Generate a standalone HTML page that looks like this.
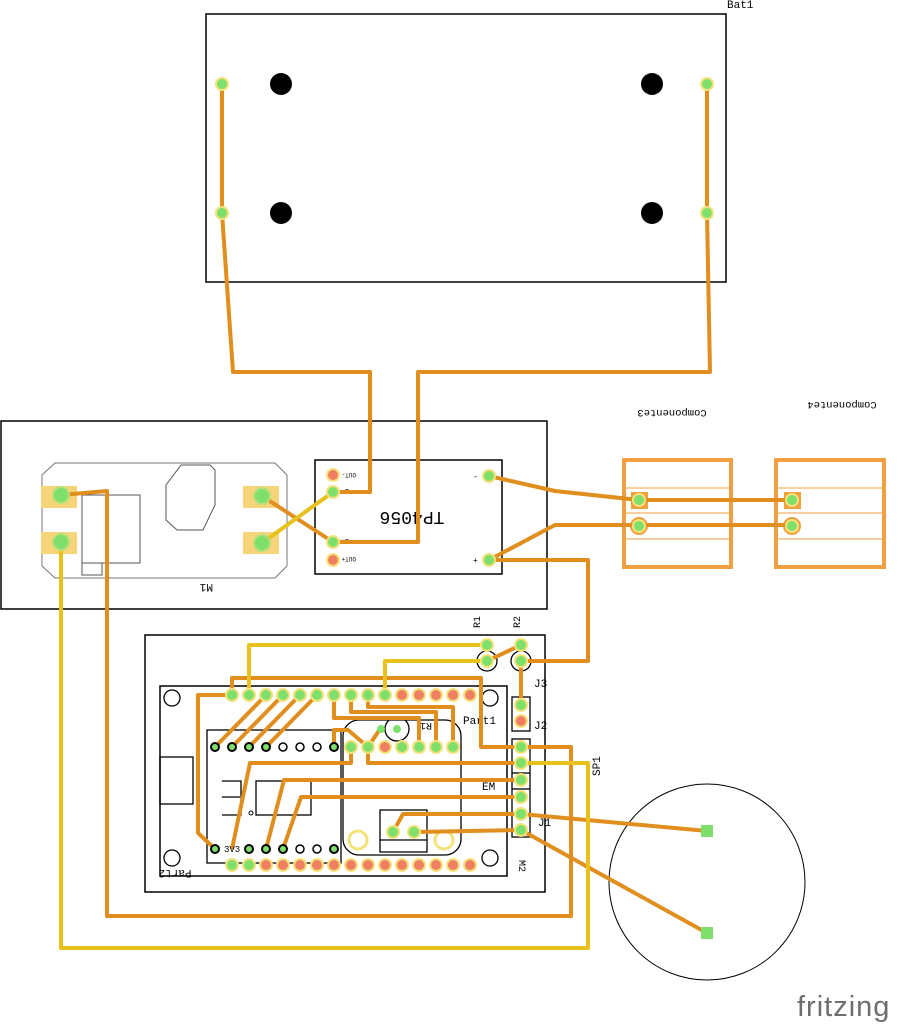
<!DOCTYPE html>
<html><head><meta charset="utf-8"><style>
html,body{margin:0;padding:0;background:#fff;width:907px;height:1024px;overflow:hidden}
svg{display:block}
text{font-family:"Liberation Mono",monospace}
</style></head><body>
<svg width="907" height="1024" viewBox="0 0 907 1024" xmlns="http://www.w3.org/2000/svg">
<defs>
<g id="pg"><circle r="7" fill="#f3e27a"/><circle r="5" fill="#7ee06a"/></g>
<g id="pr"><circle r="7" fill="#f3e27a"/><circle r="5" fill="#f07f62"/></g>
</defs>
<rect x="206" y="14" width="520" height="268" fill="none" stroke="#000" stroke-width="1.5"/>
<text x="727" y="8" font-size="11">Bat1</text>
<circle cx="281" cy="84" r="11"/><circle cx="281" cy="213" r="11"/>
<circle cx="652" cy="84" r="11"/><circle cx="652" cy="213" r="11"/>
<rect x="1" y="421" width="546" height="188" fill="none" stroke="#000" stroke-width="1.5"/>
<path d="M55 463 H275 L287 475 V566 L275 578 H55 L42 566 V475 Z" fill="none" stroke="#777" stroke-width="1"/>
<path d="M181 465 H210 L215 470 V505 L203 530 H177 L166 520 V485 Z" fill="none" stroke="#555"/>
<rect x="82" y="495" width="58" height="68" fill="none" stroke="#555"/>
<rect x="82" y="563" width="20" height="12" fill="none" stroke="#555"/>
<rect x="41" y="486" width="36" height="22" fill="#f5d47a"/><rect x="41" y="532" width="36" height="22" fill="#f5d47a"/>
<rect x="243" y="486" width="36" height="22" fill="#f5d47a"/><rect x="243" y="532" width="36" height="22" fill="#f5d47a"/>
<text x="197" y="592" font-size="11" transform="rotate(180 205 588)">M1</text>
<rect x="315" y="460" width="187" height="114" fill="none" stroke="#000" stroke-width="1.5"/>
<text x="412" y="524" font-size="18" text-anchor="middle" transform="rotate(180 412 518)">TP4056</text>
<text x="356" y="479" font-size="6" transform="rotate(180 356 476)">OUT-</text>
<text x="356" y="563" font-size="6" transform="rotate(180 356 560)">OUT+</text>
<text x="349" y="495" font-size="7" transform="rotate(180 349 492)">B-</text>
<text x="349" y="545" font-size="7" transform="rotate(180 349 542)">B+</text>
<text x="473" y="479" font-size="8">-</text><text x="473" y="563" font-size="8">+</text>
<g fill="none" stroke="#f0a040" stroke-width="4"><rect x="624" y="460" width="107" height="107"/><rect x="776" y="460" width="108" height="107"/></g>
<g stroke="#f0a040" stroke-width="1"><line x1="626" y1="488" x2="729" y2="488"/><line x1="626" y1="513" x2="729" y2="513"/><line x1="626" y1="539" x2="729" y2="539"/>
<line x1="778" y1="488" x2="882" y2="488"/><line x1="778" y1="513" x2="882" y2="513"/><line x1="778" y1="539" x2="882" y2="539"/></g>
<text x="672" y="418" font-size="10.5" text-anchor="middle" transform="rotate(180 672 414)">Componente3</text>
<text x="842" y="410" font-size="10.5" text-anchor="middle" transform="rotate(180 842 406)">Componente4</text>
<rect x="631" y="492" width="17" height="17" fill="#f0a040"/><rect x="784" y="492" width="17" height="17" fill="#f0a040"/>
<circle cx="639" cy="526" r="9" fill="#f0a040"/><circle cx="792" cy="526" r="9" fill="#f0a040"/>
<rect x="145" y="635" width="400" height="257" fill="none" stroke="#000" stroke-width="1.5"/>
<rect x="160" y="686" width="347" height="190" fill="none" stroke="#000" stroke-width="1.5"/>
<g fill="none" stroke="#000" stroke-width="1.3">
<circle cx="172" cy="698" r="8"/><circle cx="490" cy="698" r="8"/><circle cx="172" cy="858" r="8"/><circle cx="490" cy="858" r="8"/>
<rect x="207" y="730" width="134" height="133"/>
<rect x="343" y="720" width="118" height="135" rx="16"/>
<rect x="160" y="757" width="33" height="47"/>
<path d="M222 781 H241 V815 H222 M222 797 H240"/>
<rect x="256" y="781" width="55" height="34"/>
<rect x="380" y="810" width="47" height="42"/><line x1="380" y1="840" x2="427" y2="840"/>
<rect x="512" y="697" width="18" height="34"/><rect x="512" y="739" width="18" height="34"/><rect x="512" y="789" width="18" height="48"/>
<line x1="512" y1="773" x2="512" y2="789"/><line x1="530" y1="773" x2="530" y2="789"/>
<circle cx="397" cy="729" r="12"/><circle cx="487" cy="661" r="10"/><circle cx="521" cy="661" r="10"/>
<circle cx="707" cy="882" r="98" stroke-width="1"/>
</g>
<circle cx="358" cy="840" r="9" fill="none" stroke="#f3e27a" stroke-width="3"/>
<circle cx="444" cy="840" r="9" fill="none" stroke="#f3e27a" stroke-width="3"/>
<circle cx="251" cy="813" r="2" fill="none" stroke="#000"/>
<text x="463" y="724" font-size="11">Part1</text>
<text x="175" y="878" font-size="11" transform="rotate(180 175 874)" text-anchor="middle">Part2</text>
<text x="426" y="731" font-size="10" text-anchor="middle" transform="rotate(180 426 727)">R1</text>
<text x="482" y="790" font-size="11">EM</text>
<text x="538" y="826" font-size="11">J1</text>
<text x="534" y="687" font-size="11">J3</text>
<text x="534" y="729" font-size="11">J2</text>
<text x="523" y="864" font-size="10" transform="rotate(90 523 860)">M2</text>
<text x="596" y="772" font-size="11" transform="rotate(-90 600 772)">SP1</text>
<text x="480" y="628" font-size="10" transform="rotate(-90 480 628)">R1</text>
<text x="520" y="628" font-size="10" transform="rotate(-90 520 628)">R2</text>
<g fill="none" stroke="#e08e1e" stroke-width="4" stroke-linejoin="round">
<path d="M222 84 V213 L233 372 H370 V492 H333"/>
<path d="M707 84 V213 L710 372 H418 V542 H333"/>
<path d="M262 496 L333 542"/>
<path d="M61 495 L107 491 V916 H571 V747 H521"/>
<path d="M489 476 L555 491 L639 500 H792"/>
<path d="M489 560 L555 525 H792"/>
<path d="M489 560 H588 V661 H521"/>
<path d="M487 661 L521 645"/><path d="M521 661 V705"/>
<path d="M232 695 V678 H481 V747 H521"/>
<path d="M266 695 L215 747 M283 695 L232 747 M300 695 L249 747 M317 695 L266 747"/>
<path d="M232 695 H198 V833 L215 849"/>
<path d="M334 695 V718 H419 V747"/>
<path d="M351 695 V712 H436 V747"/>
<path d="M368 695 V707 H453 V747"/>
<path d="M334 747 V730 H348 L368 747 L380 729"/>
<path d="M351 747 V763 H250 L232 849"/>
<path d="M368 747 V763 H521"/>
<path d="M521 780 H284 L266 849"/>
<path d="M521 797 H301 L283 849"/>
<path d="M521 814 H403 L393 832"/>
<path d="M521 830 L414 832"/>
<path d="M521 814 L707 831"/>
<path d="M521 830 L707 933"/>
</g>
<g fill="none" stroke="#e8c21a" stroke-width="4" stroke-linejoin="round">
<path d="M262 543 L333 492"/>
<path d="M61 542 V948 H588 V763 H521"/>
<path d="M249 695 V645 H487"/>
<path d="M385 695 V661 H487"/>
</g>
<g>
<use href="#pg" x="222" y="84"/><use href="#pg" x="222" y="213"/><use href="#pg" x="707" y="84"/><use href="#pg" x="707" y="213"/>
<circle cx="61" cy="495" r="8" fill="#7ee06a" stroke="#b8e07a" stroke-width="2"/><circle cx="61" cy="542" r="8" fill="#7ee06a" stroke="#b8e07a" stroke-width="2"/>
<circle cx="262" cy="496" r="8" fill="#7ee06a" stroke="#b8e07a" stroke-width="2"/><circle cx="262" cy="543" r="8" fill="#7ee06a" stroke="#b8e07a" stroke-width="2"/>
<use href="#pr" x="333" y="475"/><use href="#pg" x="333" y="492"/><use href="#pg" x="333" y="542"/><use href="#pr" x="333" y="560"/>
<use href="#pg" x="489" y="476"/><use href="#pg" x="489" y="560"/>
<use href="#pg" x="639" y="500"/><use href="#pg" x="639" y="526"/><use href="#pg" x="792" y="500"/><use href="#pg" x="792" y="526"/>
<use href="#pg" x="232" y="695"/><use href="#pg" x="249" y="695"/><use href="#pg" x="266" y="695"/><use href="#pg" x="283" y="695"/><use href="#pg" x="300" y="695"/><use href="#pg" x="317" y="695"/><use href="#pg" x="334" y="695"/><use href="#pg" x="351" y="695"/><use href="#pg" x="368" y="695"/><use href="#pg" x="385" y="695"/>
<use href="#pr" x="402" y="695"/><use href="#pr" x="419" y="695"/><use href="#pr" x="436" y="695"/><use href="#pr" x="453" y="695"/><use href="#pr" x="470" y="695"/>
<use href="#pg" x="232" y="865"/><use href="#pg" x="249" y="865"/><use href="#pr" x="266" y="865"/><use href="#pr" x="283" y="865"/><use href="#pr" x="300" y="865"/><use href="#pr" x="317" y="865"/><use href="#pr" x="334" y="865"/><use href="#pr" x="351" y="865"/><use href="#pr" x="368" y="865"/><use href="#pr" x="385" y="865"/><use href="#pr" x="402" y="865"/><use href="#pr" x="419" y="865"/><use href="#pr" x="436" y="865"/><use href="#pr" x="453" y="865"/><use href="#pr" x="470" y="865"/>
<use href="#pg" x="351" y="747"/><use href="#pg" x="368" y="747"/><use href="#pr" x="385" y="747"/><use href="#pg" x="402" y="747"/><use href="#pg" x="419" y="747"/><use href="#pg" x="436" y="747"/><use href="#pg" x="453" y="747"/>
<use href="#pg" x="393" y="832"/><use href="#pg" x="414" y="832"/>
<use href="#pg" x="487" y="645"/><use href="#pg" x="487" y="661"/><use href="#pg" x="521" y="645"/><use href="#pg" x="521" y="661"/>
<use href="#pg" x="521" y="705"/><use href="#pr" x="521" y="721"/>
<use href="#pg" x="521" y="747"/><use href="#pg" x="521" y="763"/><use href="#pg" x="521" y="780"/><use href="#pg" x="521" y="797"/><use href="#pg" x="521" y="814"/><use href="#pg" x="521" y="830"/>
<rect x="701" y="825" width="12" height="12" fill="#7ee06a"/><rect x="701" y="927" width="12" height="12" fill="#7ee06a"/>
<circle cx="381" cy="729" r="4" fill="#7ee06a"/><circle cx="397" cy="729" r="4" fill="#7ee06a"/>
</g>
<g fill="#7ee06a" stroke="#f3e27a" stroke-width="2">
<circle cx="215" cy="747" r="4" stroke="#000" stroke-width="2"/><circle cx="232" cy="747" r="4" stroke="#000" stroke-width="2"/><circle cx="249" cy="747" r="4" stroke="#000" stroke-width="2"/><circle cx="266" cy="747" r="4" stroke="#000" stroke-width="2"/>
<circle cx="283" cy="747" r="4" fill="#fff" stroke="#000" stroke-width="1.5"/><circle cx="300" cy="747" r="4" fill="#fff" stroke="#000" stroke-width="1.5"/><circle cx="317" cy="747" r="4" fill="#fff" stroke="#000" stroke-width="1.5"/>
<circle cx="334" cy="747" r="4" stroke="#000" stroke-width="2"/>
<circle cx="215" cy="849" r="4" stroke="#000" stroke-width="2"/><circle cx="249" cy="849" r="4" stroke="#000" stroke-width="2"/><circle cx="266" cy="849" r="4" stroke="#000" stroke-width="2"/><circle cx="283" cy="849" r="4" stroke="#000" stroke-width="2"/>
<circle cx="300" cy="849" r="4" fill="#fff" stroke="#000" stroke-width="1.5"/><circle cx="317" cy="849" r="4" fill="#fff" stroke="#000" stroke-width="1.5"/>
<circle cx="334" cy="849" r="4" stroke="#000" stroke-width="2"/>
</g>
<text x="224" y="852" font-size="9">3V3</text>
<text x="797" y="1016" font-size="29" fill="#6e6e6e" style="font-family:'Liberation Sans',sans-serif;letter-spacing:1px">fritzing</text>
</svg>
</body></html>
